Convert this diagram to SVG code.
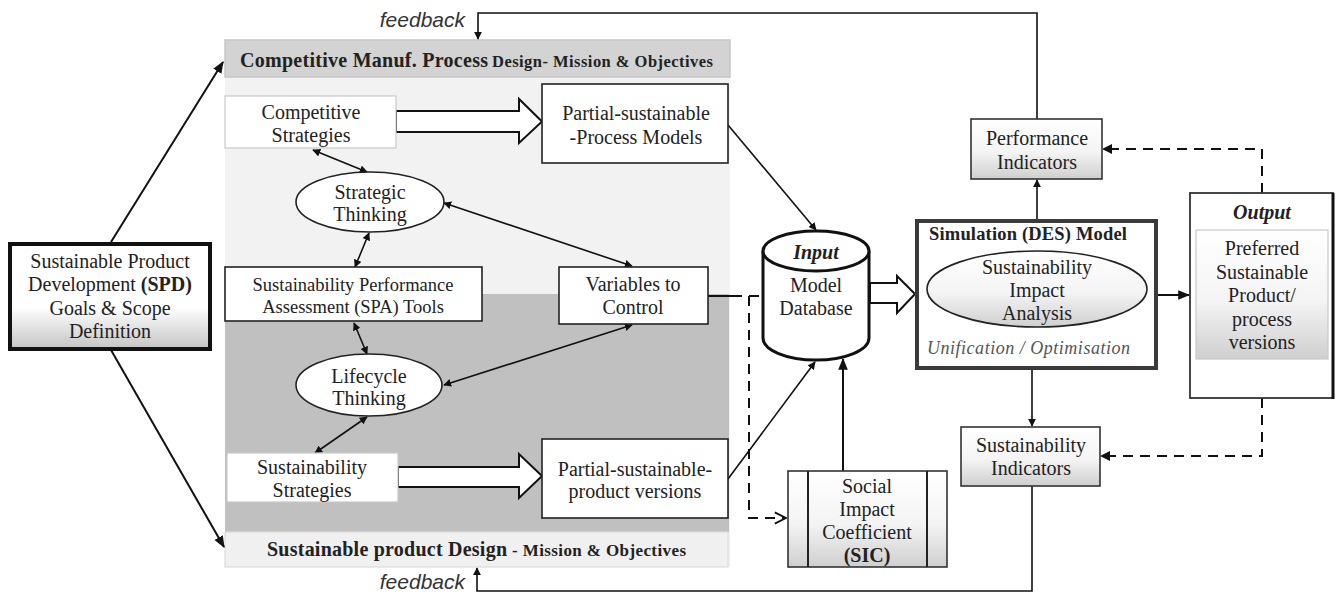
<svg xmlns="http://www.w3.org/2000/svg" width="1338" height="594" viewBox="0 0 1338 594">
<style>
text{font-family:"Liberation Serif","Times New Roman",serif;fill:#222;}
.t{font-size:20px;text-anchor:middle;}
.b{font-weight:bold;}
.fb{font-family:"Liberation Sans",Arial,sans-serif;font-style:italic;font-size:21px;text-anchor:end;fill:#333;}
.box{fill:#fff;stroke:#222;stroke-width:1.6;}
.lbox{fill:#fff;stroke:#c8c8c8;stroke-width:1.2;}
.gbox{fill:url(#g1);stroke:#333;stroke-width:1.6;}
.ln{fill:none;stroke:#111;stroke-width:2;}
.thin{fill:none;stroke:#111;stroke-width:1.6;}
.dash{fill:none;stroke:#111;stroke-width:2;stroke-dasharray:10,7;}
.hollow{fill:#fff;stroke:#111;stroke-width:2;}
</style>
<defs>
<linearGradient id="g1" x1="0" y1="0" x2="0" y2="1"><stop offset="0" stop-color="#ffffff"/><stop offset="0.55" stop-color="#f4f4f4"/><stop offset="1" stop-color="#cfcfcf"/></linearGradient>
<linearGradient id="g2" x1="0" y1="0" x2="0" y2="1"><stop offset="0" stop-color="#ffffff"/><stop offset="0.6" stop-color="#ffffff"/><stop offset="1" stop-color="#c4c4c4"/></linearGradient>
<marker id="ah" viewBox="0 0 10 10" refX="9" refY="5" markerWidth="5" markerHeight="5" orient="auto-start-reverse" markerUnits="strokeWidth"><path d="M0,0 L10,5 L0,10 z" fill="#111"/></marker>
<marker id="ahs" viewBox="0 0 10 10" refX="9" refY="5" markerWidth="6" markerHeight="6" orient="auto-start-reverse" markerUnits="strokeWidth"><path d="M0,1 L10,5 L0,9 z" fill="#111"/></marker>
<marker id="open" viewBox="0 0 10 10" refX="9" refY="5" markerWidth="7" markerHeight="7" orient="auto" markerUnits="strokeWidth"><path d="M1,1 L9,5 L1,9" fill="none" stroke="#111" stroke-width="1.3"/></marker>
</defs>

<g id="panel">
<rect x="225" y="40" width="505" height="527" fill="#f2f2f2"/>
<rect x="225" y="294" width="504" height="238" fill="#c0c0c0"/>
</g>

<g id="header-top">
<rect x="225" y="40" width="505" height="37" fill="#d3d3d3" stroke="#c6c6c6" stroke-width="1.5"/>
<text x="240" y="67" class="b" style="font-size:20px" textLength="248" lengthAdjust="spacing">Competitive Manuf. Process</text>
<text x="492" y="67" class="b" style="font-size:16.5px" textLength="221" lengthAdjust="spacing">Design- Mission &amp; Objectives</text>
</g>

<g id="header-bottom">
<rect x="225" y="532" width="503" height="35" fill="#f0f0f0" stroke="#dcdcdc" stroke-width="1.2"/>
<text x="267" y="556" class="b" style="font-size:20px" textLength="240" lengthAdjust="spacing">Sustainable product Design</text>
<text x="512" y="556" class="b" style="font-size:17px" textLength="174" lengthAdjust="spacing">- Mission &amp; Objectives</text>
</g>

<g id="connectors">
<line x1="111" y1="242" x2="223" y2="62" class="ln" marker-end="url(#ahs)"/>
<line x1="111" y1="350" x2="224" y2="547" class="ln" marker-end="url(#ahs)"/>
<path d="M396,111 L519,111 L519,99 L542,121.5 L519,143 L519,132 L396,132 z" class="hollow"/>
<path d="M398,467 L519,467 L519,454 L542,476 L519,498 L519,487 L398,487 z" class="hollow"/>
<path d="M870,283 L897,283 L897,276 L915,294 L897,313 L897,303 L870,303 z" class="hollow"/>
<line x1="313" y1="150" x2="367" y2="172" class="thin" marker-start="url(#ah)" marker-end="url(#ah)"/>
<line x1="369" y1="233" x2="355" y2="267" class="thin" marker-start="url(#ah)" marker-end="url(#ah)"/>
<line x1="444" y1="203" x2="632" y2="266" class="thin" marker-start="url(#ah)" marker-end="url(#ah)"/>
<line x1="354" y1="323" x2="367" y2="354" class="thin" marker-start="url(#ah)" marker-end="url(#ah)"/>
<line x1="444" y1="385" x2="632" y2="325" class="thin" marker-start="url(#ah)" marker-end="url(#ah)"/>
<line x1="367" y1="417" x2="315" y2="453" class="thin" marker-start="url(#ah)" marker-end="url(#ah)"/>
<line x1="728" y1="125" x2="816" y2="230" class="thin" marker-end="url(#ah)"/>
<line x1="728" y1="479" x2="815" y2="362" class="thin" marker-end="url(#ah)"/>
<line x1="843" y1="471" x2="843" y2="359" class="ln" marker-end="url(#ahs)"/>
<line x1="708" y1="296" x2="732" y2="296" class="ln"/>
<line x1="732" y1="296" x2="764" y2="296" class="dash" stroke-dasharray="9,6"/>
<path d="M749,296 L749,518 L786,518" class="dash" marker-end="url(#open)"/>
<line x1="1037" y1="219" x2="1037" y2="180" class="thin" marker-end="url(#ah)"/>
<line x1="1032" y1="370" x2="1032" y2="426" class="thin" marker-end="url(#ah)"/>
<line x1="1158" y1="295" x2="1189" y2="295" class="ln" marker-end="url(#ahs)"/>
<path d="M1037,119 L1037,13 L478,13 L478,39" class="thin" marker-end="url(#ah)"/>
<path d="M1032,486 L1032,591 L477,591 L477,568" class="thin" marker-end="url(#ah)"/>
<path d="M1262,193 L1262,149 L1103,149" class="dash" marker-end="url(#ah)"/>
<path d="M1262,398 L1262,456 L1101,456" class="dash" marker-end="url(#ah)"/>
</g>

<g id="spd">
<rect x="10" y="244" width="200" height="105" fill="url(#g2)" stroke="#111" stroke-width="4"/>
<text class="t" x="110" y="268">Sustainable Product</text>
<text class="t" x="110" y="291">Development <tspan class="b">(SPD)</tspan></text>
<text class="t" x="110" y="315">Goals &amp; Scope</text>
<text class="t" x="110" y="338">Definition</text>
</g>

<g id="competitive-strategies">
<rect x="225" y="96" width="171" height="52" class="lbox"/>
<text class="t" x="311" y="119">Competitive</text>
<text class="t" x="311" y="142">Strategies</text>
</g>

<g id="process-models">
<rect x="542" y="84" width="186" height="79" class="box"/>
<text class="t" x="636" y="120">Partial-sustainable</text>
<text class="t" x="636" y="144">-Process Models</text>
</g>

<g id="strategic-thinking">
<ellipse cx="370" cy="202" rx="74" ry="30" fill="#fff" stroke="#222" stroke-width="1.6"/>
<text class="t" x="370" y="199">Strategic</text>
<text class="t" x="370" y="221">Thinking</text>
</g>

<g id="spa-tools">
<rect x="225" y="267" width="257" height="54" class="box"/>
<text class="t" x="353" y="291" style="font-size:18.5px">Sustainability Performance</text>
<text class="t" x="353" y="313" style="font-size:18.5px">Assessment (SPA) Tools</text>
</g>

<g id="variables">
<rect x="559" y="267" width="149" height="57" class="box"/>
<text class="t" x="633" y="291">Variables to</text>
<text class="t" x="633" y="314">Control</text>
</g>

<g id="lifecycle-thinking">
<ellipse cx="369" cy="385" rx="73" ry="31" fill="#fff" stroke="#222" stroke-width="1.6"/>
<text class="t" x="369" y="383">Lifecycle</text>
<text class="t" x="369" y="405">Thinking</text>
</g>

<g id="sustainability-strategies">
<rect x="227" y="453" width="171" height="49" class="lbox"/>
<text class="t" x="312" y="474">Sustainability</text>
<text class="t" x="312" y="497">Strategies</text>
</g>

<g id="product-versions">
<rect x="542" y="439" width="186" height="79" class="box"/>
<text class="t" x="635" y="476">Partial-sustainable-</text>
<text class="t" x="635" y="498">product versions</text>
</g>

<g id="database">
<path d="M763,251 L763,338 A53,22 0 0 0 869,338 L869,251" fill="#fff" stroke="#111" stroke-width="3"/>
<ellipse cx="816" cy="251" rx="53" ry="20" fill="#fff" stroke="#111" stroke-width="3"/>
<text class="t b" x="816" y="259" font-style="italic">Input</text>
<text class="t" x="816" y="292">Model</text>
<text class="t" x="816" y="315">Database</text>
</g>

<g id="sic">
<rect x="788" y="471" width="159" height="96" class="gbox"/>
<line x1="808" y1="471" x2="808" y2="567" stroke="#222" stroke-width="2"/>
<line x1="927" y1="471" x2="927" y2="567" stroke="#222" stroke-width="2"/>
<text class="t" x="867" y="493">Social</text>
<text class="t" x="867" y="516">Impact</text>
<text class="t" x="867" y="539">Coefficient</text>
<text class="t b" x="867" y="562">(SIC)</text>
</g>

<g id="simulation">
<rect x="917" y="221" width="239" height="147" fill="#fff" stroke="#3a3a3a" stroke-width="4"/>
<text x="929" y="240" class="b" style="font-size:18.5px" textLength="198" lengthAdjust="spacing">Simulation (DES) Model</text>
<ellipse cx="1037" cy="289" rx="110" ry="38" fill="url(#g1)" stroke="#222" stroke-width="1.6"/>
<text class="t" x="1037" y="274">Sustainability</text>
<text class="t" x="1037" y="297">Impact</text>
<text class="t" x="1037" y="320">Analysis</text>
<text x="927" y="354" font-style="italic" style="font-size:18px;fill:#555" textLength="203" lengthAdjust="spacing">Unification  / Optimisation</text>
</g>

<g id="performance-indicators">
<rect x="971" y="119" width="131" height="60" class="gbox"/>
<text class="t" x="1037" y="145">Performance</text>
<text class="t" x="1037" y="169">Indicators</text>
</g>

<g id="sustainability-indicators">
<rect x="961" y="427" width="139" height="59" class="gbox"/>
<text class="t" x="1031" y="452">Sustainability</text>
<text class="t" x="1031" y="475">Indicators</text>
</g>

<g id="output">
<rect x="1190" y="193" width="143" height="205" fill="#fff" stroke="#333" stroke-width="1.8"/>
<line x1="1333" y1="193" x2="1333" y2="399" stroke="#111" stroke-width="3"/>
<text class="t b" x="1262" y="219" font-style="italic">Output</text>
<rect x="1196" y="230" width="132" height="129" fill="url(#g1)" stroke="#c8c8c8" stroke-width="1.2"/>
<text class="t" x="1262" y="255">Preferred</text>
<text class="t" x="1262" y="279">Sustainable</text>
<text class="t" x="1262" y="302">Product/</text>
<text class="t" x="1262" y="326">process</text>
<text class="t" x="1262" y="349">versions</text>
</g>

<g id="feedback-labels">
<text x="465" y="27" class="fb">feedback</text>
<text x="465" y="589" class="fb">feedback</text>
</g>
</svg>
